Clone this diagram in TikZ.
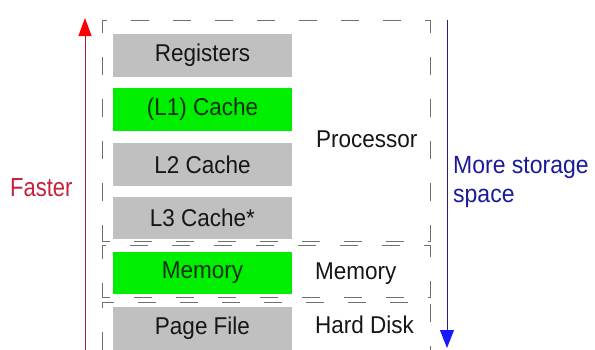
\documentclass[tikz,border=0pt]{standalone}
\usepackage{fontspec}
\setmainfont{Liberation Sans}
\usetikzlibrary{arrows.meta}
\definecolor{boxgray}{HTML}{C0C0C0}
\definecolor{boxgreen}{HTML}{00EE00}
\definecolor{grptext}{HTML}{161616}
\definecolor{greentext}{HTML}{0E300E}
\definecolor{fastred}{HTML}{C8203A}
\definecolor{fastline}{HTML}{A02030}
\definecolor{moreblue}{HTML}{1A1A9A}
\definecolor{moreline}{HTML}{202078}
\definecolor{dashgray}{HTML}{707070}
\tikzset{
  lvlbox/.style={fill=boxgray, draw=none, minimum width=179pt, minimum height=39.8pt, inner sep=0pt,
    text=grptext, font=\fontsize{22.5}{27}\selectfont, transform shape, yscale=1.08},
  lvlgreen/.style={lvlbox, fill=boxgreen, text=greentext},
  grp/.style={draw=dashgray, line width=0.9pt, dash pattern=on 18pt off 24pt, dash phase=10pt,
    minimum width=328pt, inner sep=0pt},
  lbl/.style={text=grptext, font=\fontsize{22.5}{27}\selectfont, inner sep=0pt, anchor=base west,
    transform shape, yscale=1.08},
  fastarrow/.style={draw=fastline, line width=0.9pt, -{Triangle[color=red, length=18pt, width=13pt]}},
  morearrow/.style={draw=moreline, line width=0.9pt, -{Triangle[color=blue!90!white, length=18pt, width=14pt]}}
}
\begin{document}
\begin{tikzpicture}[x=1pt, y=-1pt]
\useasboundingbox (0,0) rectangle (595,349);
% dashed groups
\node[grp, minimum height=221pt] (proc) at (266,130.5) {};
\node[grp, minimum height=52pt] (mem) at (266,271) {};
\node[grp, minimum height=60pt] (disk) at (266,332) {};
% levels
\node[lvlbox] (reg) at (202.5,55.5) {Registers};
\node[lvlgreen] (l1) at (202.5,109.5) {(L1) Cache};
\node[lvlbox] (l2) at (202.5,164.5) {L2 Cache};
\node[lvlbox] (l3) at (202.5,218) {L3 Cache*};
\node[lvlgreen] (ram) at (202.5,273) {Memory};
\node[lvlbox] (page) at (202.5,328.5) {Page File};
% group labels
\node[lbl] (plbl) at (316,147) {Processor};
\node[lbl] (mlbl) at (315,279) {Memory};
\node[lbl] (hlbl) at (315,333) {Hard Disk};
% arrows
\coordinate (fbot) at (85,352);
\coordinate (ftop) at (85,18);
\draw[fastarrow] (fbot) -- (ftop);
\node[lbl, text=fastred, font=\fontsize{22}{26}\selectfont, yscale=1.1] (faster) at (10,196) {Faster};
\coordinate (stop) at (447,20);
\coordinate (sbot) at (447,348);
\draw[morearrow] (stop) -- (sbot);
\node[lbl, text=moreblue, font=\fontsize{23}{26}\selectfont, align=left] (more) at (453,202) {More storage\\space};
\end{tikzpicture}
\end{document}
